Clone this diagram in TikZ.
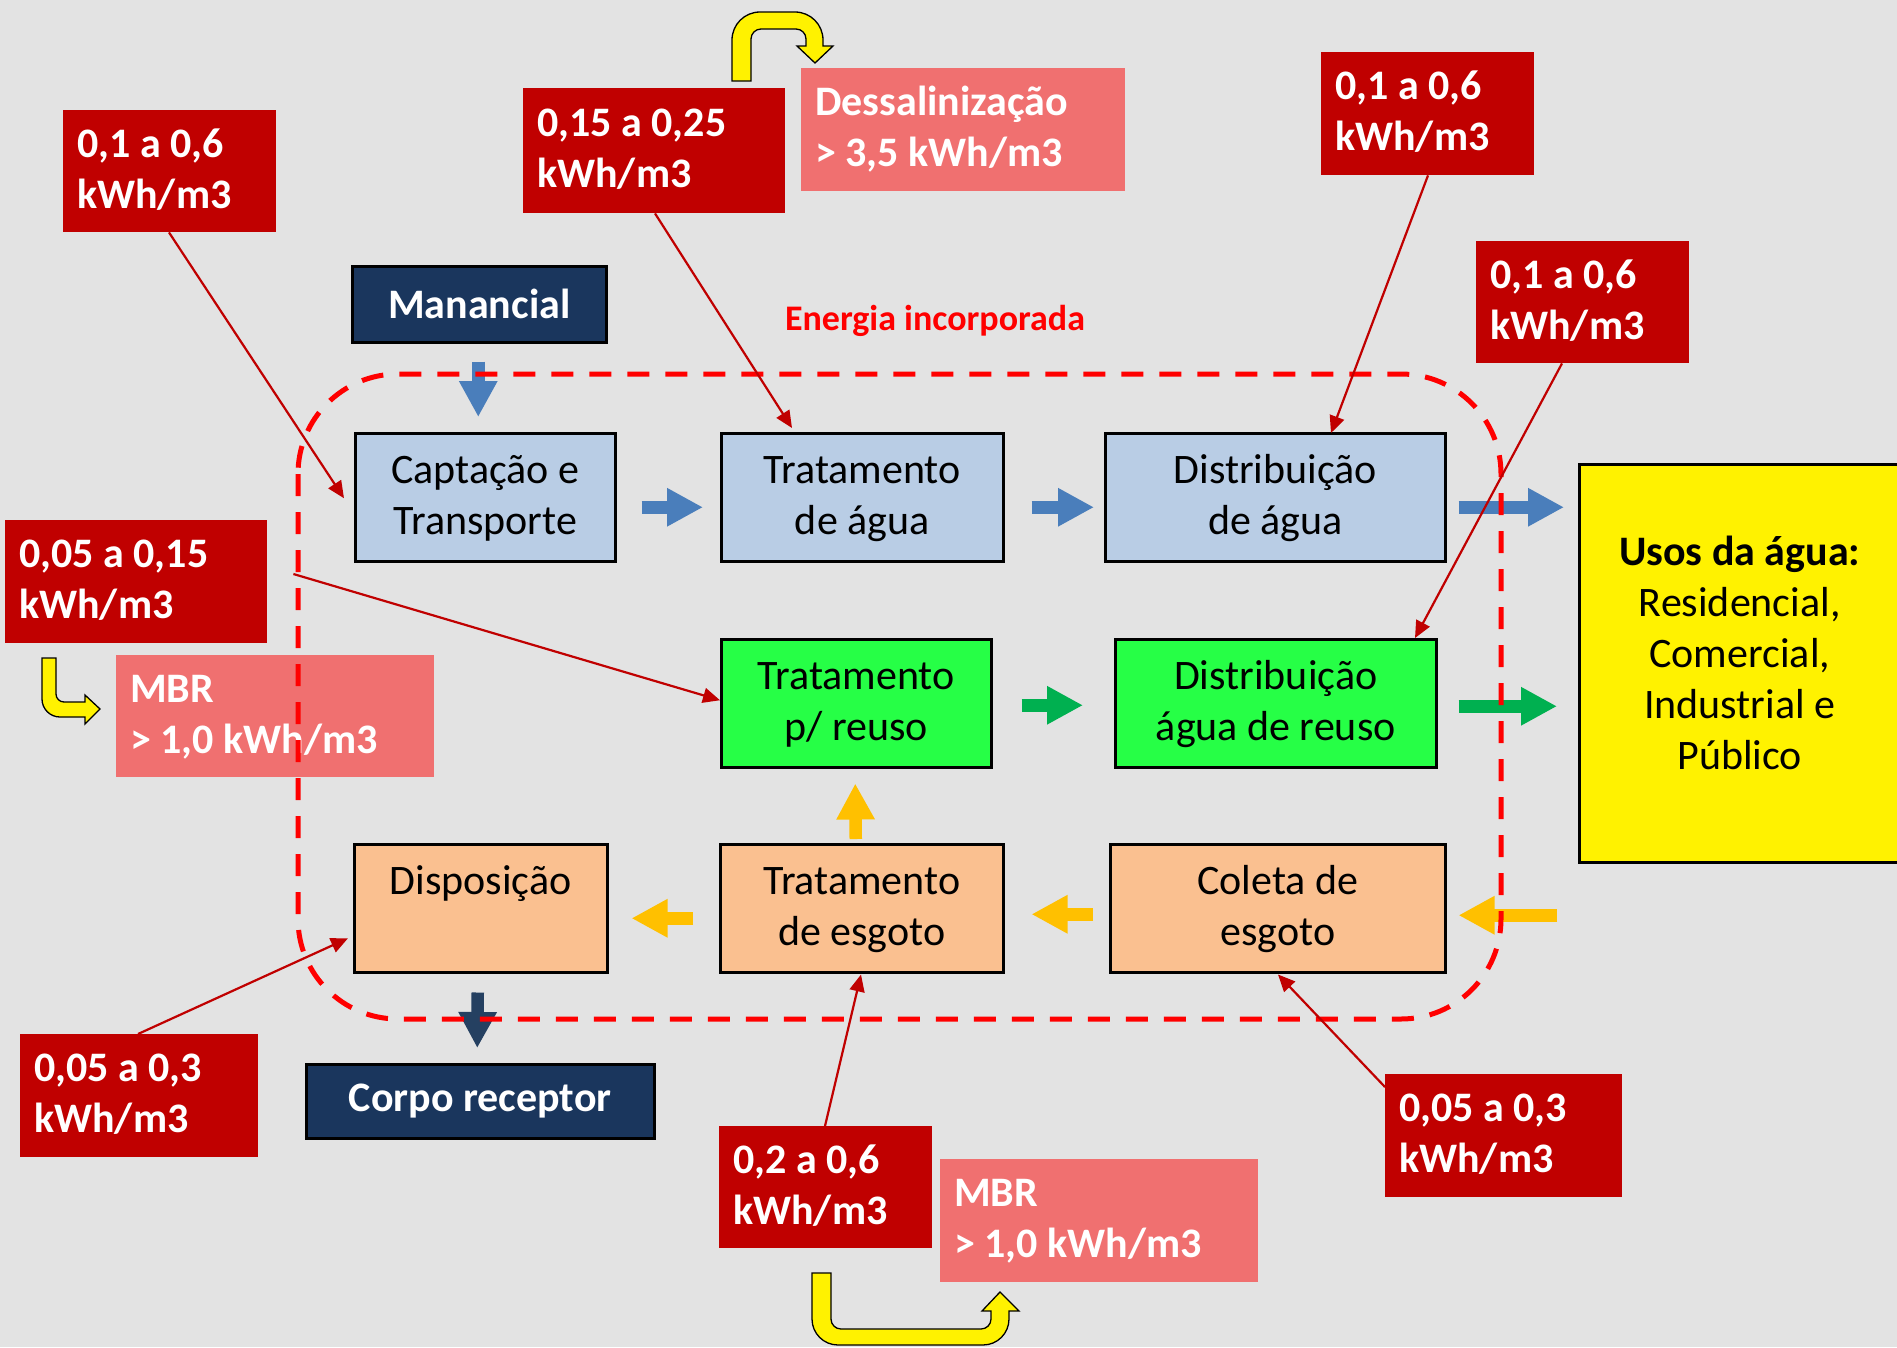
\documentclass[tikz,border=0pt]{standalone}
\usepackage{fontspec}
\setmainfont{Carlito}
\usetikzlibrary{arrows.meta,calc}
\definecolor{bgc}{HTML}{E3E3E3}
\definecolor{lblue}{HTML}{B9CDE5}
\definecolor{lgreen}{HTML}{26FF46}
\definecolor{peach}{HTML}{FAC090}
\definecolor{navy}{HTML}{1A365D}
\definecolor{valred}{HTML}{C00000}
\definecolor{valpink}{HTML}{F07070}
\definecolor{arrowblue}{HTML}{4A7EBB}
\definecolor{arrowgreen}{HTML}{00B050}
\definecolor{arroworange}{HTML}{FFC000}
\definecolor{arrownavy}{HTML}{254061}
\newcommand\natsp{\spaceskip=\fontdimen2\font\relax\xspaceskip=\fontdimen2\font\relax}
\newcommand\twol[2]{\noindent\natsp\rule{0pt}{47pt}#1\\#2\rule[-24pt]{0pt}{24pt}}
\newcommand\boxt[2]{\noindent\natsp\rule{0pt}{50pt}#1\\#2\rule[-27pt]{0pt}{27pt}}
\begin{document}
\begin{tikzpicture}[x=1pt,y=-1pt,
  flowbox/.style={draw=black,line width=2.5pt,anchor=north west,inner sep=0pt,align=center,font=\fontsize{42pt}{51pt}\selectfont,minimum height=128pt},
  valbox/.style={anchor=north west,inner xsep=14pt,inner ysep=0pt,align=left,text=white,font=\bfseries\fontsize{42pt}{51pt}\selectfont,minimum height=122pt},
  redval/.style={valbox,fill=valred},
  pinkval/.style={valbox,fill=valpink},
  darkbox/.style={draw=black,line width=2.5pt,fill=navy,text=white,anchor=north west,inner sep=0pt,font=\bfseries\fontsize{42pt}{51pt}\selectfont},
  blockarrow/.style={line width=12.5pt,-{Triangle[length=36pt,width=36pt]}},
  energyarrow/.style={draw=valred,line width=2.2pt,-{Triangle[length=17pt,width=15pt]}},
  bentarrow/.style={fill=yellow,draw=black,line width=1.3pt,line join=miter},
  boundary/.style={draw=red,line width=5pt,dash pattern=on 22pt off 16pt,rounded corners=100pt}
]
\useasboundingbox (0,0) rectangle (1897,1347);
\clip (0,0) rectangle (1897,1347);
\fill[bgc] (0,0) rectangle (1897,1347);

% yellow bent arrows
\filldraw[bentarrow] (732,81) -- (732,40) arc[start angle=180,end angle=270,radius=28] -- (795,12) arc[start angle=270,end angle=360,radius=28] -- (823,46) -- (833,46) -- (815,63) -- (797,46) -- (806,46) -- (806,39) arc[start angle=0,end angle=-90,radius=10] -- (761,29) arc[start angle=-90,end angle=-180,radius=10] -- (751,81) -- cycle;
\filldraw[bentarrow] (812,1273) -- (812,1319) arc[start angle=180,end angle=90,radius=26] -- (983,1345) arc[start angle=90,end angle=0,radius=26] -- (1009,1311) -- (1019,1311) -- (1000,1292) -- (982,1311) -- (991,1311) -- (991,1319) arc[start angle=0,end angle=90,radius=10] -- (841,1329) arc[start angle=90,end angle=180,radius=10] -- (831,1273) -- cycle;
\filldraw[bentarrow] (42,658) -- (42,699) arc[start angle=180,end angle=90,radius=18] -- (85,717) -- (85,724) -- (100,709) -- (85,695) -- (85,702) -- (64,702) arc[start angle=90,end angle=180,radius=8] -- (56,658) -- cycle;

% energy value boxes
\node[redval,text width=185pt] (r1) at (63,110) {\twol{0,1 a 0,6}{kWh/m3}};
\node[redval,text width=234pt,minimum height=125pt] (r2) at (523,88) {\twol{0,15 a 0,25}{kWh/m3}};
\node[pinkval,text width=296pt,minimum height=123pt] (desal) at (801,68) {\twol{Dessalinização}{> 3,5 kWh/m3}};
\node[redval,text width=185pt,minimum height=123pt] (r3) at (1321,52) {\twol{0,1 a 0,6}{kWh/m3}};
\node[redval,text width=185pt] (r4) at (1476,241) {\twol{0,1 a 0,6}{kWh/m3}};
\node[redval,text width=234pt,minimum height=123pt] (r5) at (5,520) {\twol{0,05 a 0,15}{kWh/m3}};
\node[pinkval,text width=290pt] (mbr1) at (116,655) {\twol{MBR}{> 1,0 kWh/m3}};
\node[redval,text width=210pt,minimum height=123pt] (r6) at (20,1034) {\twol{0,05 a 0,3}{kWh/m3}};
\node[redval,text width=185pt] (r7) at (719,1126) {\twol{0,2 a 0,6}{kWh/m3}};
\node[pinkval,text width=290pt,minimum height=123pt] (mbr2) at (940,1159) {\twol{MBR}{> 1,0 kWh/m3}};
\node[redval,text width=209pt,minimum height=123pt] (r8) at (1385,1074) {\twol{0,05 a 0,3}{kWh/m3}};

% process boxes
\node[darkbox,minimum width=254pt,minimum height=76pt] (man) at (351,265) {Manancial};
\node[flowbox,fill=lblue,text width=260pt] (cap) at (354,432) {\boxt{Captação e}{Transporte}};
\node[flowbox,fill=lblue,text width=282pt] (trat) at (720,432) {\boxt{Tratamento}{de água}};
\node[flowbox,fill=lblue,text width=340pt] (dist) at (1104,432) {\boxt{Distribuição}{de água}};
\node[flowbox,fill=lgreen,text width=270pt] (reuso) at (720,638) {\boxt{Tratamento}{p/ reuso}};
\node[flowbox,fill=lgreen,text width=321pt] (distr) at (1114,638) {\boxt{Distribuição}{água de reuso}};
\node[flowbox,fill=peach,text width=253pt] (disp) at (353,843) {\boxt{Disposição}{}};
\node[flowbox,fill=peach,text width=283pt] (esg) at (719,843) {\boxt{Tratamento}{de esgoto}};
\node[flowbox,fill=peach,text width=335pt] (col) at (1109,843) {\boxt{Coleta de}{esgoto}};
\node[darkbox,minimum width=348pt,minimum height=74pt] (corpo) at (305,1063) {Corpo receptor};
\node[flowbox,fill=yellow,text width=321pt,minimum height=398pt] (usos) at (1578,463) {\noindent\natsp\rule{0pt}{101pt}\textbf{Usos da água:}\\Residencial,\\Comercial,\\Industrial e\\Público\rule[-93pt]{0pt}{93pt}};

% flow arrows
\draw[blockarrow,arrowblue] ($(man.south)+(-1,18)$) -- ($(cap.north)+(-7,-15)$);
\draw[blockarrow,arrowblue] ($(cap.east)+(25,10)$) -- ($(trat.west)+(-17,10)$);
\draw[blockarrow,arrowblue] ($(trat.east)+(27,10)$) -- ($(dist.west)+(-10,10)$);
\draw[blockarrow,arrowblue] ($(dist.east)+(12,10)$) -- ($(usos.west)+(-14,-156)$);
\draw[blockarrow,arrowgreen] ($(reuso.east)+(29,2)$) -- ($(distr.west)+(-31,2)$);
\draw[blockarrow,arrowgreen] ($(distr.east)+(21,3)$) -- ($(usos.west)+(-21,43)$);
\draw[blockarrow,arroworange] ($(usos.west)+(-21,252)$) -- ($(col.east)+(12,7)$);
\draw[blockarrow,arroworange] ($(col.west)+(-16,6)$) -- ($(esg.east)+(27,6)$);
\draw[blockarrow,arroworange] ($(esg.west)+(-26,10)$) -- ($(disp.east)+(23,10)$);
\draw[blockarrow,arroworange] ($(esg.north)+(-6,-4)$) -- ($(reuso.south)+(-1,15)$);
\draw[blockarrow,arrownavy] ($(disp.south)+(-3,19)$) -- ($(corpo.north)+(-3,-15)$);

% embodied energy boundary
\draw[boundary] (298,374) rectangle (1501,1019);
\node[text=red,font=\bfseries\fontsize{36pt}{43pt}\selectfont,anchor=base] (energia) at (935,330) {Energia incorporada};

% energy arrows
\draw[energyarrow] ($(r1.south west)+(106,0)$) -- ($(cap.west)+(-10,1)$);
\draw[energyarrow] ($(r2.south west)+(132,0)$) -- ($(trat.north west)+(72,-4)$);
\draw[energyarrow] ($(r3.south west)+(107,0)$) -- ($(dist.north west)+(227,1)$);
\draw[energyarrow] ($(r4.south west)+(86,0)$) -- ($(distr.north west)+(301,0)$);
\coordinate (r5out) at ($(r5.north east)+(26,54)$);
\draw[energyarrow] (r5out) -- ($(reuso.west)+(0,-3)$);
\draw[energyarrow] ($(r6.north west)+(118,0)$) -- ($(disp.west)+(-5,30)$);
\draw[energyarrow] ($(r7.north west)+(106,0)$) -- ($(esg.south west)+(142,1)$);
\draw[energyarrow] ($(r8.north west)+(0,13)$) -- ($(col.south west)+(169,1)$);
\end{tikzpicture}
\end{document}
